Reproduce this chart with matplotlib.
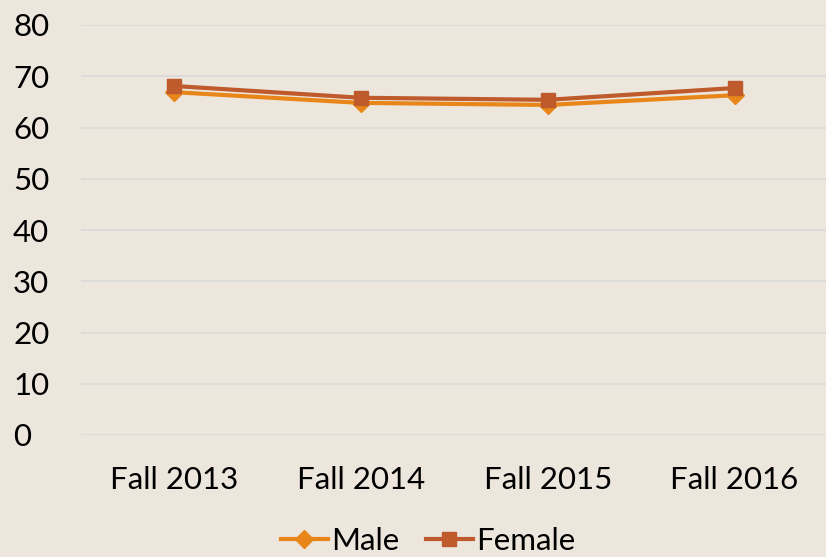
import matplotlib
matplotlib.use("Agg")
import matplotlib.pyplot as plt

# data
terms = ["Fall 2013", "Fall 2014", "Fall 2015", "Fall 2016"]
male = [66.9, 64.8, 64.4, 66.3]
female = [68.1, 65.8, 65.4, 67.7]
yticks = [0, 10, 20, 30, 40, 50, 60, 70, 80]

bg = "#ECE6DD"
plt.rcParams['font.family'] = ['Lato', 'DejaVu Sans']

fig = plt.figure(figsize=(8.26, 5.57), dpi=100, facecolor=bg)
ax = fig.add_axes([80.5/826, 1 - 435/557, (828 - 80.5)/826, (435 - 25)/557])
ax.set_facecolor(bg)

x = list(range(len(terms)))
ax.plot(x, male, color="#E8861A", lw=3, marker="D", ms=9, label="Male")
ax.plot(x, female, color="#BE5A2B", lw=3, marker="s", ms=10.5, label="Female")

ax.set_xlim(-0.5, 3.5)
ax.set_ylim(0, 80)
ax.set_yticks(yticks)
ax.set_xticks(x)
ax.set_xticklabels(terms)
ax.tick_params(axis='both', length=0, labelsize=22.5, colors="black")
ax.tick_params(axis='y', pad=48.5)
ax.tick_params(axis='x', pad=22)
for lbl in ax.get_yticklabels():
    lbl.set_horizontalalignment('left')
ax.grid(axis='y', color="#D9D9D9", lw=1.2)
ax.set_axisbelow(True)
for s in ax.spines.values():
    s.set_visible(False)

fig.legend(*ax.get_legend_handles_labels(), loc='center',
           bbox_to_anchor=(428/826, 1 - 541/557), ncol=2, frameon=False,
           fontsize=22.5, handlelength=1.5, handletextpad=0.1, columnspacing=0.85,
           borderpad=0)

fig.savefig("out.png", dpi=100, facecolor=bg)
